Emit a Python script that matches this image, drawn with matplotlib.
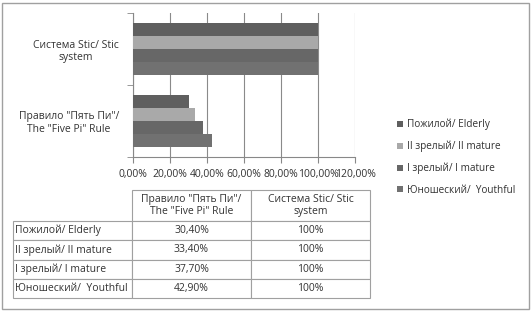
import matplotlib
matplotlib.use('Agg')
import matplotlib.pyplot as plt
from matplotlib.patches import Rectangle

plt.rcParams['font.family'] = ['Open Sans', 'DejaVu Sans']

categories = ['Правило "Пять Пи"/\nThe "Five Pi" Rule', 'Система Stic/ Stic\nsystem']
series = ['Пожилой/ Elderly', 'II зрелый/ II mature', 'I зрелый/ I mature', 'Юношеский/  Youthful']
five_pi = [30.4, 33.4, 37.7, 42.9]
stic = [100, 100, 100, 100]
colors = ['#5f5f5f', '#a9a9a9', '#676767', '#717171']
xticks = [0, 20, 40, 60, 80, 100, 120]

W, H = 532, 311
fs = 7.5
fig = plt.figure(figsize=(W / 100, H / 100), dpi=100)

# outer frame
fig.patches.append(Rectangle((2 / W, 2 / H), 527 / W, 306 / H, transform=fig.transFigure,
                             fill=False, edgecolor='#a0a0a0', lw=1.0))

ax = fig.add_axes([133 / W, 1 - 157 / H, 222 / W, 144 / H])
offsets = [0.27, 0.09, -0.09, -0.27]
bh = 0.18
for i, name in enumerate(series):
    vals = [five_pi[i], stic[i]]
    ax.barh([k + offsets[i] for k in range(2)], vals, height=bh, color=colors[i],
            label=name, zorder=3)

ax.set_xlim(0, 120)
ax.set_ylim(-0.5, 1.5)
ax.set_xticks(xticks)
ax.set_xticklabels([f"{t:.2f}".replace('.', ',') + '%' for t in xticks], fontsize=fs,
                   color='#333333')
ax.set_yticks([0, 1])
ax.set_yticklabels(categories, fontsize=fs, multialignment='center', color='#333333')
ax.set_yticks([-0.5, 0.5, 1.5], minor=True)
ax.tick_params(axis='y', which='major', length=0, pad=10)
ax.tick_params(axis='y', which='minor', length=4, color='#888888', direction='out')
ax.tick_params(axis='x', length=4, color='#888888', direction='out', pad=5)
ax.grid(axis='x', color='#8a8a8a', lw=0.8, zorder=0)
for s in ['top', 'right']:
    ax.spines[s].set_visible(False)
for s in ['left', 'bottom']:
    ax.spines[s].set_color('#888888')
    ax.spines[s].set_linewidth(0.8)

leg = fig.legend(loc='upper left', bbox_to_anchor=(388 / W, 1 - 110 / H), frameon=False,
                 fontsize=7.2, handlelength=0.6, handleheight=0.6, handletextpad=0.4,
                 labelspacing=1.04, labelcolor='#333333')

# data table (row labels as first column, header row with blank corner)
tax = fig.add_axes([13 / W, 1 - 298 / H, 357 / W, 108 / H])
tax.axis('off')
rows = [[''] + categories]
for name, a, b in zip(series, five_pi, stic):
    rows.append([name, f"{a:.2f}".replace('.', ',') + '%', f"{b:d}%"])
tbl = tax.table(cellText=rows, cellLoc='center', bbox=[0, 0, 1, 1])
tbl.auto_set_font_size(False)
tbl.set_fontsize(fs)
for (r, c), cell in tbl.get_celld().items():
    cell.set_edgecolor('#a0a0a0')
    cell.set_linewidth(0.8)
    cell.set_width(1.0)
    cell.set_height(31 if r == 0 else 19.25)
    cell.get_text().set_color('#333333')
    if c == 0:
        cell.PAD = 0.02
        cell.get_text().set_horizontalalignment('left')
        cell._loc = 'left'
    if r == 0 and c == 0:
        cell.visible_edges = ''

fig.savefig('out.png', dpi=100)
